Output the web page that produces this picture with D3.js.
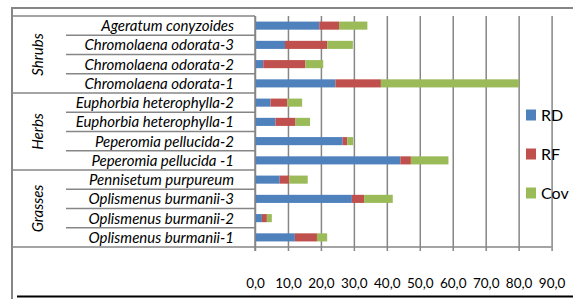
<!DOCTYPE html>
<html>
<head>
<meta charset="utf-8">
<script src="https://cdn.jsdelivr.net/npm/d3@7"></script>
<style>
  body { margin: 0; background: #fff; }
  svg { display: block; }
  text { font-family: Lato, "Liberation Sans", sans-serif; fill: #000; }
</style>
</head>
<body>
<div id="chart"></div>
<script>
// data, top row first
var species = ["Ageratum conyzoides", "Chromolaena odorata-3", "Chromolaena odorata-2",
               "Chromolaena odorata-1", "Euphorbia heterophylla-2", "Euphorbia heterophylla-1",
               "Peperomia pellucida-2", "Peperomia pellucida -1", "Pennisetum purpureum",
               "Oplismenus burmanii-3", "Oplismenus burmanii-2", "Oplismenus burmanii-1"];
var groups = ["Shrubs", "Shrubs", "Shrubs", "Shrubs", "Herbs", "Herbs", "Herbs", "Herbs",
              "Grasses", "Grasses", "Grasses", "Grasses"];
var rd  = [19.5,  9.1,  2.5, 24.4, 4.7, 6.2, 26.6, 44.1, 7.5, 29.4, 2.1, 12.1];
var rf  = [ 6.0, 12.8, 12.8, 13.8, 5.1, 6.1,  1.4,  3.2, 2.9,  3.7, 1.5,  6.7];
var cov = [ 8.6,  7.8,  5.4, 41.9, 4.5, 4.4,  1.8, 11.4, 5.6,  8.7, 1.5,  3.1];
var keys = ["RD", "RF", "Cov"];
var ticks = [0, 10, 20, 30, 40, 50, 60, 70, 80, 90];
var colours = ["#4f81bd", "#c0504d", "#9bbb59"];

var width = 573, height = 299;
var grey = "#868686";

var rows = species.map(function(s, i) {
    return { name: s, group: groups[i], RD: rd[i], RF: rf[i], Cov: cov[i] };
});

var x = d3.scaleLinear().domain([0, 90]).range([255, 551.6]);
var y = d3.scaleBand().domain(species).range([16, 247])
    .paddingInner(0.58).paddingOuter(0.29);
var color = d3.scaleOrdinal().domain(keys).range(colours);

var svg = d3.select("#chart").append("svg")
    .attr("width", width)
    .attr("height", height);

// chart border
svg.append("line")
    .attr("x1", 12).attr("x2", width).attr("y1", 8).attr("y2", 8)
    .attr("stroke", grey).attr("stroke-width", 2);
svg.append("line")
    .attr("x1", 12).attr("x2", 12).attr("y1", 7).attr("y2", height)
    .attr("stroke", grey).attr("stroke-width", 2);
svg.append("line")
    .attr("x1", 17).attr("x2", width).attr("y1", 296.5).attr("y2", 296.5)
    .attr("stroke", "#000").attr("stroke-width", 2);

// vertical grid + bottom axis
var xAxis = d3.axisBottom(x)
    .tickValues(ticks)
    .tickSize(-(247 - 16))
    .tickFormat(function(d) { return d3.format(".1f")(d).replace(".", ","); });

var gx = svg.append("g")
    .attr("transform", "translate(0,247)")
    .call(xAxis);
gx.select(".domain").remove();
gx.selectAll(".tick line").attr("stroke", grey).attr("stroke-width", 1.5)
    .attr("y1", 4);
gx.selectAll(".tick text")
    .attr("y", 31)
    .attr("font-size", 13.5)
    .attr("fill", "#000");
gx.append("line")
    .attr("x1", x(0)).attr("x2", x(90)).attr("y1", 0).attr("y2", 0)
    .attr("stroke", grey).attr("stroke-width", 1.5);

// category box: row ticks and group separators
var step = y.step();
var box = svg.append("g");
species.forEach(function(s, i) {
    var top = y(s) - y.paddingOuter() * step;
    var newGroup = i === 0 || groups[i] !== groups[i - 1];
    box.append("line")
        .attr("x1", newGroup ? 12 : 66).attr("x2", x(0))
        .attr("y1", top).attr("y2", top)
        .attr("stroke", grey).attr("stroke-width", 1.5);
});
box.append("line")
    .attr("x1", 12).attr("x2", x(0)).attr("y1", 247).attr("y2", 247)
    .attr("stroke", grey).attr("stroke-width", 1.5);

// species labels
svg.append("g").selectAll("text")
    .data(rows)
    .enter()
    .append("text")
    .attr("x", 234)
    .attr("y", function(d) { return y(d.name) + y.bandwidth() / 2; })
    .attr("dy", "0.36em")
    .attr("text-anchor", "end")
    .attr("font-size", 15)
    .attr("font-style", "italic")
    .text(function(d) { return d.name; });

// group labels
var groupNames = ["Shrubs", "Herbs", "Grasses"];
svg.append("g").selectAll("text")
    .data(groupNames)
    .enter()
    .append("text")
    .attr("transform", function(g) {
        var members = species.filter(function(s, i) { return groups[i] === g; });
        var y0 = y(members[0]) - y.paddingOuter() * step;
        var cy = y0 + members.length * step / 2;
        return "translate(38," + cy + ") rotate(-90)";
    })
    .attr("dy", "0.36em")
    .attr("text-anchor", "middle")
    .attr("font-size", 15)
    .attr("font-style", "italic")
    .text(function(g) { return g; });

// stacked bars
var series = d3.stack().keys(keys)(rows);
svg.append("g").selectAll("g")
    .data(series)
    .enter()
    .append("g")
    .attr("fill", function(d) { return color(d.key); })
    .selectAll("rect")
    .data(function(d) { return d; })
    .enter()
    .append("rect")
    .attr("x", function(d) { return x(d[0]); })
    .attr("y", function(d) { return y(d.data.name); })
    .attr("width", function(d) { return x(d[1]) - x(d[0]); })
    .attr("height", y.bandwidth());

// category axis line
svg.append("line")
    .attr("x1", x(0)).attr("x2", x(0)).attr("y1", 16).attr("y2", 251)
    .attr("stroke", grey).attr("stroke-width", 1.5);

// legend
var legend = svg.append("g").selectAll("g")
    .data(keys)
    .enter()
    .append("g")
    .attr("transform", function(d, i) { return "translate(526," + (115 + i * 39) + ")"; });
legend.append("rect")
    .attr("x", 0).attr("y", -5.5)
    .attr("width", 10).attr("height", 11)
    .attr("fill", function(d) { return color(d); });
legend.append("text")
    .attr("x", 15)
    .attr("dy", "0.36em")
    .attr("font-size", 16)
    .text(function(d) { return d; });
</script>
</body>
</html>
